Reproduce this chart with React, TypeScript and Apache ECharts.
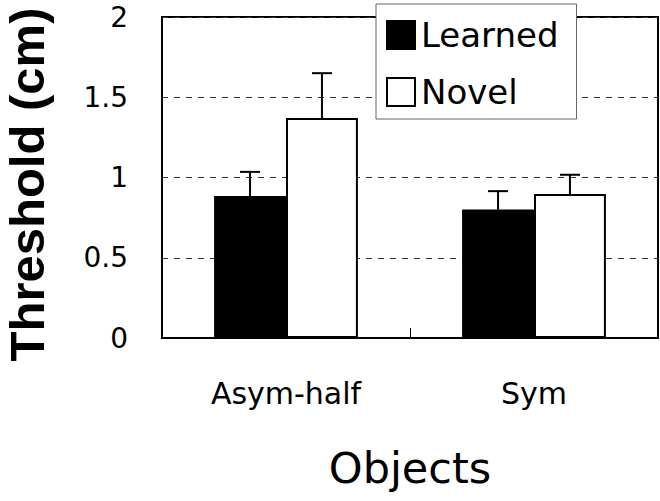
import React, { useEffect, useRef } from "react";
import * as echarts from "echarts";

const categories = ["Asym-half", "Sym"];
const learnedValues = [0.885, 0.8];
const learnedErrors = [0.15, 0.115];
const novelValues = [1.37, 0.897];
const novelErrors = [0.28, 0.12];
const yTicks = { min: 0, max: 2, interval: 0.5 };

const BAR_GAP_RATIO = 0.42;

function makeErrorRender(side: number) {
  return (params: any, api: any) => {
    const idx = api.value(0);
    const v = api.value(1);
    const e = api.value(2);
    const base = api.coord([idx, v]);
    const top = api.coord([idx, v + e]);
    const band = api.size([1, 0])[0];
    const barW = (band * (1 - BAR_GAP_RATIO)) / 2;
    const x = base[0] + (side * barW) / 2;
    return {
      type: "group",
      children: [
        {
          type: "line",
          shape: { x1: x, y1: base[1], x2: x, y2: top[1] },
          style: { stroke: "#000", lineWidth: 2 },
        },
        {
          type: "line",
          shape: { x1: x - 10, y1: top[1], x2: x + 10, y2: top[1] },
          style: { stroke: "#000", lineWidth: 2 },
        },
      ],
    };
  };
}

export default function App() {
  const ref = useRef<HTMLDivElement>(null);
  useEffect(() => {
    if (!ref.current) return;
    const chart = echarts.init(ref.current, undefined, { renderer: "svg" });
    chart.setOption({
      animation: false,
      backgroundColor: "#fff",
      grid: {
        left: 162,
        right: 2,
        top: 17,
        bottom: 163,
        show: true,
        borderColor: "#000",
        borderWidth: 2,
        backgroundColor: "transparent",
        outerBoundsMode: "none",
        containLabel: false,
      },
      legend: {
        data: [
          { name: "Learned", itemStyle: { color: "#000", borderColor: "#000", borderWidth: 2 } },
          { name: "Novel", itemStyle: { color: "#fff", borderColor: "#000", borderWidth: 2 } },
        ],
        orient: "vertical",
        left: 376,
        top: 4,
        icon: "rect",
        itemWidth: 28,
        itemHeight: 28,
        itemGap: 23,
        padding: [14, 18, 10, 10],
        backgroundColor: "#fff",
        borderColor: "#666",
        borderWidth: 1,
        borderRadius: 0,
        textStyle: {
          fontFamily: "DejaVu Sans",
          fontSize: 34,
          lineHeight: 34,
          color: "#000",
          padding: [0, 0, 0, 1],
        },
      },
      xAxis: {
        type: "category",
        data: categories,
        name: "Objects",
        nameLocation: "middle",
        nameGap: 108,
        nameTextStyle: { fontFamily: "DejaVu Sans", fontSize: 43, color: "#000" },
        axisLine: { show: true, lineStyle: { color: "#000", width: 2 } },
        axisTick: { show: true, inside: true, length: 10, lineStyle: { color: "#000", width: 1 } },
        axisLabel: { fontFamily: "DejaVu Sans", fontSize: 30, color: "#000", margin: 40 },
        splitLine: { show: false },
      },
      yAxis: {
        type: "value",
        min: yTicks.min,
        max: yTicks.max,
        interval: yTicks.interval,
        name: "Threshold (cm)",
        nameLocation: "middle",
        nameGap: 111,
        nameTextStyle: {
          fontFamily: "Liberation Sans",
          fontWeight: "bold",
          fontSize: 49,
          color: "#000",
          padding: [0, 14, 0, 0],
        },
        axisLine: { show: true, lineStyle: { color: "#000", width: 2 } },
        axisTick: { show: false },
        axisLabel: { fontFamily: "DejaVu Sans", fontSize: 28, color: "#000", margin: 34 },
        splitLine: { show: true, lineStyle: { color: "#333", width: 1, type: [6, 6] } },
      },
      series: [
        {
          name: "Learned",
          type: "bar",
          data: learnedValues,
          barGap: "0%",
          barCategoryGap: "42%",
          itemStyle: { color: "#000", borderColor: "#000", borderWidth: 2 },
        },
        {
          name: "Novel",
          type: "bar",
          data: novelValues,
          barGap: "0%",
          barCategoryGap: "42%",
          itemStyle: { color: "#fff", borderColor: "#000", borderWidth: 2 },
        },
        {
          name: "LearnedErr",
          type: "custom",
          data: learnedValues.map((v, i) => [i, v, learnedErrors[i]]),
          encode: { x: 0, y: 1 },
          renderItem: makeErrorRender(-1),
          z: 3,
        },
        {
          name: "NovelErr",
          type: "custom",
          data: novelValues.map((v, i) => [i, v, novelErrors[i]]),
          encode: { x: 0, y: 1 },
          renderItem: makeErrorRender(1),
          z: 3,
        },
      ],
    });
    return () => chart.dispose();
  }, []);
  return (
    <div
      ref={ref}
      style={{ position: "fixed", left: 0, top: 0, width: 660, height: 501, background: "#fff" }}
    />
  );
}
